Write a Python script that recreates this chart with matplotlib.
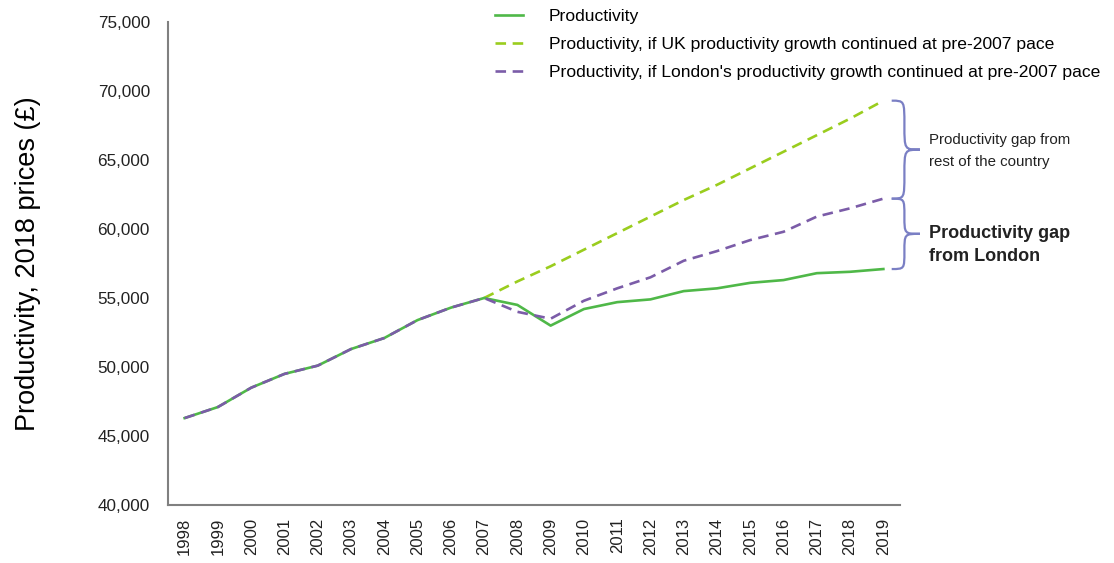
import numpy as np
import matplotlib.pyplot as plt
from matplotlib.path import Path
from matplotlib.patches import PathPatch

plt.rcParams['font.family'] = ['Liberation Sans', 'DejaVu Sans']

# Datos
years = list(range(1998, 2020))
productivity = [46300, 47100, 48500, 49500, 50100, 51300, 52100, 53400, 54300, 55000,
                54500, 53000, 54200, 54700, 54900, 55500, 55700, 56100, 56300, 56800,
                56900, 57100]
uk_years = list(range(2007, 2020))
uk_pace = [55000, 56200, 57300, 58500, 59700, 60900, 62100, 63200, 64400, 65600,
           66800, 68000, 69300]
london_pace = [46300, 47100, 48500, 49500, 50100, 51300, 52100, 53400, 54300, 55000,
               54000, 53500, 54800, 55700, 56500, 57700, 58400, 59200, 59800, 60900,
               61500, 62200]

labels = ["Productivity",
          "Productivity, if UK productivity growth continued at pre-2007 pace",
          "Productivity, if London's productivity growth continued at pre-2007 pace"]

c_prod = '#4fb848'
c_uk = '#9acd1e'
c_lon = '#7b5ca8'
c_brace = '#7a7fc4'

fig = plt.figure(figsize=(11.14, 5.63), dpi=100)
ax = fig.add_axes([0.1508, 0.1030, 0.8079 - 0.1508, 0.9609 - 0.1030])

l1, = ax.plot(years, productivity, color=c_prod, lw=1.9, zorder=3)
l2, = ax.plot(uk_years, uk_pace, color=c_uk, lw=1.9, dashes=(4, 2.5), zorder=2)
l3, = ax.plot(years, london_pace, color=c_lon, lw=1.9, dashes=(4, 2.5), zorder=4)

ax.set_xlim(1997.5, 2019.5)
ax.set_ylim(40000, 75000)
ax.set_yticks(np.arange(40000, 75001, 5000))
ax.yaxis.set_major_formatter(plt.FuncFormatter(lambda v, p: f"{int(v):,}"))
ax.set_xticks(years)
ax.set_xticklabels([str(y) for y in years], rotation=90)
ax.tick_params(axis='y', length=0, pad=13, labelsize=12.3, colors='#222222')
ax.tick_params(axis='x', length=0, pad=9, labelsize=12, colors='#222222')
for s in ['top', 'right']:
    ax.spines[s].set_visible(False)
for s in ['left', 'bottom']:
    ax.spines[s].set_color('#808080')
    ax.spines[s].set_linewidth(1.5)

ax.set_ylabel("Productivity, 2018 prices (£)", fontsize=19.5, labelpad=41)

ax.legend([l1, l2, l3], labels, loc='upper left', bbox_to_anchor=(0.425, 1.060),
          frameon=False, fontsize=12.6, handlelength=1.6, handletextpad=1.5,
          labelspacing=0.73)


# Llaves (brace) a la derecha
def brace(ax, x0, y_top, y_bot, w):
    x1 = x0 + w * 0.45
    x2 = x0 + w
    ym = (y_top + y_bot) / 2
    q = (y_top - y_bot) * 0.25
    verts = [(x0, y_top),
             (x1, y_top), (x1, y_top), (x1, y_top - q),
             (x1, ym + q),
             (x1, ym), (x1, ym), (x2, ym),
             (x1, ym), (x1, ym), (x1, ym - q),
             (x1, y_bot + q),
             (x1, y_bot), (x1, y_bot), (x0, y_bot)]
    codes = [Path.MOVETO,
             Path.CURVE4, Path.CURVE4, Path.CURVE4,
             Path.LINETO,
             Path.CURVE4, Path.CURVE4, Path.CURVE4,
             Path.CURVE4, Path.CURVE4, Path.CURVE4,
             Path.LINETO,
             Path.CURVE4, Path.CURVE4, Path.CURVE4]
    patch = PathPatch(Path(verts, codes), fill=False, edgecolor=c_brace, lw=1.6,
                      clip_on=False)
    ax.add_patch(patch)


brace(ax, 2019.25, uk_pace[-1], london_pace[-1], 0.85)
brace(ax, 2019.25, london_pace[-1], productivity[-1], 0.85)

ax.text(2020.38, 65650,
        "Productivity gap from\nrest of the country", fontsize=10.8,
        va='center', ha='left', linespacing=1.65, color='#222222')
ax.text(2020.38, 58850,
        "Productivity gap\nfrom London", fontsize=13, fontweight='bold',
        va='center', ha='left', linespacing=1.5, color='#222222')

fig.savefig('out.png', dpi=100)
